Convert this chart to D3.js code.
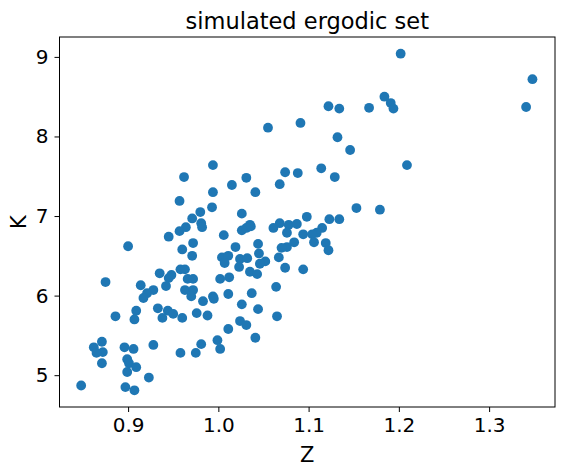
<!DOCTYPE html>
<html>
<head>
<meta charset="utf-8">
<script src="https://cdn.jsdelivr.net/npm/d3@7"></script>
<style>
  body { margin: 0; background: #fff; }
  text { font-family: "DejaVu Sans", sans-serif; fill: #000; }
</style>
</head>
<body>
<div id="chart"></div>
<script>
const zValues = [
  0.994, 0.962, 1.031, 1.015, 0.994, 1.041, 0.957, 0.993, 0.980, 1.026,
  0.971, 0.981, 0.982, 0.964, 0.957, 1.035, 1.026, 1.031, 1.006, 0.945,
  0.972, 0.900, 0.960, 1.019, 0.971, 1.004, 1.011, 1.007, 1.024, 1.032,
  1.023, 1.035, 0.958, 0.963, 0.935, 0.948, 0.945, 0.966, 0.972, 1.002,
  1.012, 0.875, 0.914, 0.942, 0.928, 0.921, 0.917, 0.963, 0.972, 0.970,
  0.994, 0.995, 0.983, 1.011, 1.037, 1.026, 0.933, 0.944, 0.950, 0.938,
  0.960, 0.976, 0.988, 0.909, 0.907, 0.886, 1.024, 1.031, 1.011, 1.041,
  0.871, 0.862, 0.872, 0.865, 0.871, 0.896, 0.906, 0.899, 0.901, 0.909,
  0.899, 0.928, 0.923, 0.958, 0.975, 0.981, 0.999, 1.002, 0.848, 0.897,
  0.907, 1.122, 1.134, 1.091, 1.055, 1.132, 1.146, 1.074, 1.088, 1.114,
  1.129, 1.068, 1.153, 1.098, 1.123, 1.134, 1.068, 1.061, 1.078, 1.087,
  1.076, 1.094, 1.115, 1.109, 1.104, 1.106, 1.119, 1.122, 1.084, 1.076,
  1.070, 1.067, 1.036, 1.044, 1.045, 1.052, 1.046, 1.043, 1.074, 1.094,
  1.064, 1.044, 1.065, 1.202, 1.348, 1.341, 1.184, 1.191, 1.194, 1.167,
  1.209, 1.179
];
const kValues = [
  7.64, 7.49, 7.48, 7.39, 7.30, 7.30, 7.19, 7.11, 7.05, 7.03,
  6.97, 6.91, 6.86, 6.86, 6.81, 6.89, 6.82, 6.85, 6.76, 6.74,
  6.66, 6.62, 6.58, 6.61, 6.50, 6.48, 6.50, 6.41, 6.46, 6.47,
  6.36, 6.30, 6.33, 6.33, 6.28, 6.26, 6.22, 6.21, 6.21, 6.21,
  6.23, 6.17, 6.13, 6.12, 6.07, 6.03, 5.97, 6.07, 6.07, 5.99,
  5.99, 5.96, 5.93, 6.02, 6.03, 5.89, 5.84, 5.81, 5.77, 5.72,
  5.72, 5.78, 5.75, 5.81, 5.70, 5.74, 5.68, 5.63, 5.58, 5.47,
  5.42, 5.35, 5.29, 5.28, 5.15, 5.35, 5.33, 5.20, 5.15, 5.10,
  5.04, 5.38, 4.97, 5.28, 5.28, 5.39, 5.44, 5.33, 4.87, 4.85,
  4.81, 8.38, 8.35, 8.17, 8.11, 7.99, 7.83, 7.55, 7.54, 7.60,
  7.49, 7.40, 7.10, 6.99, 6.96, 6.96, 6.91, 6.85, 6.89, 6.90,
  6.79, 6.77, 6.85, 6.79, 6.77, 6.67, 6.66, 6.57, 6.67, 6.61,
  6.60, 6.48, 6.87, 6.65, 6.53, 6.43, 6.40, 6.27, 6.35, 6.33,
  6.11, 5.83, 5.74, 9.04, 8.72, 8.37, 8.50, 8.42, 8.35, 8.36,
  7.64, 7.08
];
const xTicks = [0.9, 1.0, 1.1, 1.2, 1.3];
const yTicks = [5, 6, 7, 8, 9];

const width = 564, height = 472;
const margin = { left: 59.5, top: 37, right: 9, bottom: 65 };
const innerW = width - margin.left - margin.right;
const innerH = height - margin.top - margin.bottom;

const svg = d3.select('#chart').append('svg')
  .attr('width', width).attr('height', height);
const g = svg.append('g').attr('transform', `translate(${margin.left},${margin.top})`);

const x = d3.scaleLinear().domain([0.824, 1.373]).range([0, innerW]);
const y = d3.scaleLinear().domain([4.60, 9.25]).range([innerH, 0]);

g.selectAll('circle')
  .data(zValues)
  .enter()
  .append('circle')
  .attr('cx', d => x(d))
  .attr('cy', (_, i) => y(kValues[i]))
  .attr('r', 4.9)
  .attr('fill', '#1f77b4');

const xAxis = g.append('g')
  .attr('transform', `translate(0,${innerH})`)
  .call(d3.axisBottom(x).tickValues(xTicks).tickFormat(d3.format('.1f')).tickSize(5).tickPadding(6));
const yAxis = g.append('g')
  .call(d3.axisLeft(y).tickValues(yTicks).tickFormat(d3.format('d')).tickSize(5).tickPadding(6));
[xAxis, yAxis].forEach(a => {
  a.attr('font-size', null).attr('font-family', null);
  a.select('.domain').remove();
  a.selectAll('text').attr('font-size', '20px').attr('fill', '#000');
  a.selectAll('line').attr('stroke', '#000');
});

g.append('rect')
  .attr('width', innerW).attr('height', innerH)
  .attr('fill', 'none').attr('stroke', '#000').attr('stroke-width', 1);

svg.append('text')
  .attr('x', margin.left + innerW / 2).attr('y', 462)
  .attr('text-anchor', 'middle').attr('font-size', '21px').text('Z');
svg.append('text')
  .attr('transform', `translate(26,${margin.top + innerH / 2}) rotate(-90)`)
  .attr('text-anchor', 'middle').attr('font-size', '21px').text('K');
svg.append('text')
  .attr('x', margin.left + innerW / 2).attr('y', 29)
  .attr('text-anchor', 'middle').attr('font-size', '22.5px').text('simulated ergodic set');
</script>
</body>
</html>
